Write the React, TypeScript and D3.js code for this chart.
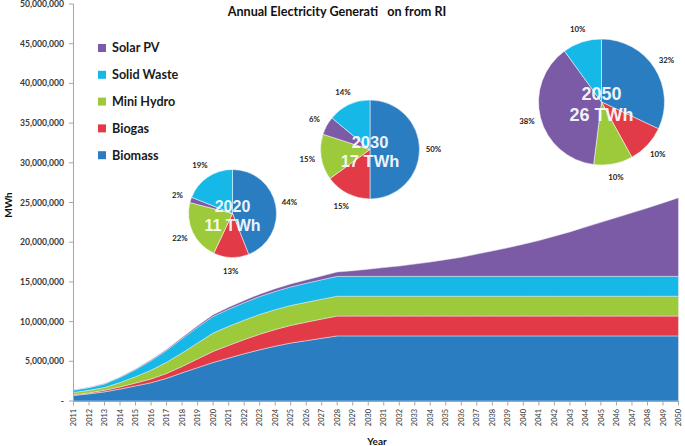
import * as d3 from 'd3';

// Values in million MWh, 2011..2050
const years = d3.range(2011, 2051);

const biomass = [
  0.7, 0.9, 1.15, 1.5, 1.9, 2.3, 2.85, 3.55, 4.2, 4.85,
  5.4, 5.95, 6.45, 6.9, 7.3, 7.6, 7.9, 8.2, 8.2, 8.2,
  8.2, 8.2, 8.2, 8.2, 8.2, 8.2, 8.2, 8.2, 8.2, 8.2,
  8.2, 8.2, 8.2, 8.2, 8.2, 8.2, 8.2, 8.2, 8.2, 8.2,
];
const biogas = [
  0.08, 0.12, 0.2, 0.27, 0.36, 0.48, 0.62, 0.8, 1.1, 1.4,
  1.6, 1.78, 1.95, 2.1, 2.22, 2.33, 2.42, 2.5, 2.5, 2.5,
  2.5, 2.5, 2.5, 2.5, 2.5, 2.5, 2.5, 2.5, 2.5, 2.5,
  2.5, 2.5, 2.5, 2.5, 2.5, 2.5, 2.5, 2.5, 2.5, 2.5,
];
const miniHydro = [
  0.3, 0.32, 0.35, 0.55, 0.8, 1.1, 1.4, 1.7, 2.0, 2.3,
  2.4, 2.45, 2.5, 2.5, 2.5, 2.5, 2.5, 2.5, 2.5, 2.5,
  2.5, 2.5, 2.5, 2.5, 2.5, 2.5, 2.5, 2.5, 2.5, 2.5,
  2.5, 2.5, 2.5, 2.5, 2.5, 2.5, 2.5, 2.5, 2.5, 2.5,
];
const solidWaste = [
  0.3, 0.35, 0.45, 0.65, 0.9, 1.2, 1.5, 1.8, 2.0, 2.1,
  2.15, 2.2, 2.25, 2.3, 2.35, 2.4, 2.45, 2.5, 2.5, 2.5,
  2.5, 2.5, 2.5, 2.5, 2.5, 2.5, 2.5, 2.5, 2.5, 2.5,
  2.5, 2.5, 2.5, 2.5, 2.5, 2.5, 2.5, 2.5, 2.5, 2.5,
];
const solarPV = [
  0.02, 0.03, 0.04, 0.06, 0.08, 0.1, 0.13, 0.16, 0.19, 0.22,
  0.25, 0.28, 0.31, 0.34, 0.38, 0.42, 0.47, 0.55, 0.7, 0.9,
  1.1, 1.3, 1.55, 1.8, 2.1, 2.4, 2.8, 3.2, 3.6, 4.05,
  4.5, 5.05, 5.6, 6.2, 6.8, 7.4, 8.0, 8.6, 9.25, 9.9,
];

const seriesNames = ['Biomass', 'Biogas', 'Mini Hydro', 'Solid Waste', 'Solar PV'];
const seriesValues = [biomass, biogas, miniHydro, solidWaste, solarPV];
const colors: Record<string, string> = {
  'Biomass': '#2b7dc1',
  'Biogas': '#e23a46',
  'Mini Hydro': '#9dca3b',
  'Solid Waste': '#15b8e7',
  'Solar PV': '#7b5aa6',
};
const legendOrder = ['Solar PV', 'Solid Waste', 'Mini Hydro', 'Biogas', 'Biomass'];

// pie slices, clockwise from 12 o'clock
const pieSliceNames = ['Biomass', 'Biogas', 'Mini Hydro', 'Solar PV', 'Solid Waste'];
const pieYears = ['2020', '2030', '2050'];
const pieTotals = ['11 TWh', '17 TWh', '26 TWh'];
const pieShares = [
  [44, 13, 22, 2, 19],
  [50, 15, 15, 6, 14],
  [32, 10, 10, 38, 10],
];
const pieLayout = [
  { cx: 232.5, cy: 213.5, r: 44, fs: 16 },
  { cx: 370, cy: 149.5, r: 49.5, fs: 16.5 },
  { cx: 601.5, cy: 102, r: 63, fs: 18 },
];

const yTicks = [0, 5, 10, 15, 20, 25, 30, 35, 40, 45, 50];

const W = 685;
const H = 446;
const FONT = 'Lato, "Open Sans", sans-serif';

export default function App() {
  const x = d3.scalePoint<number>().domain(years).range([73.5, 678.5]);
  const y = d3.scaleLinear().domain([0, 50]).range([401, 4]);

  const rows = years.map((yr, i) => {
    const r: Record<string, number> = { year: yr };
    seriesNames.forEach((n, k) => { r[n] = seriesValues[k][i]; });
    return r;
  });
  const stacked = d3.stack<Record<string, number>>().keys(seriesNames)(rows);
  const area = d3.area<d3.SeriesPoint<Record<string, number>>>()
    .x(d => x(d.data.year) ?? 0)
    .y0(d => y(d[0]))
    .y1(d => y(d[1]));

  const fmt = d3.format(',');

  return (
    <div style={{ position: 'fixed', left: 0, top: 0, width: W, height: H, background: '#fff' }}>
      <svg width={W} height={H} style={{ display: 'block' }} fontFamily={FONT}>
        {/* areas */}
        {stacked.map(s => (
          <path key={s.key} d={area(s) ?? ''} fill={colors[s.key]}
            stroke="#e8e8f0" strokeOpacity={0.7} strokeWidth={0.7} />
        ))}

        {/* y axis */}
        <line x1={73.5} x2={73.5} y1={4} y2={401} stroke="#a6a6a6" strokeWidth={1} />
        {yTicks.map(t => (
          <g key={t}>
            <line x1={69} x2={73.5} y1={y(t)} y2={y(t)} stroke="#a6a6a6" />
            <text x={64} y={y(t)} dy="0.35em" textAnchor="end" fontSize={8.6}
              fontWeight={700} fill="#3a3a3a">{t === 0 ? '-' : fmt(t * 1e6)}</text>
          </g>
        ))}

        {/* x axis */}
        <line x1={73.5} x2={679} y1={401.5} y2={401.5} stroke="#a6a6a6" strokeWidth={1} />
        {years.map(yr => (
          <g key={yr}>
            <line x1={x(yr)} x2={x(yr)} y1={401.5} y2={405.5} stroke="#a6a6a6" />
            <text transform={`translate(${x(yr)},${409}) rotate(-90)`} dy="0.35em"
              textAnchor="end" fontSize={7.4} fill="#333">{yr}</text>
          </g>
        ))}

        {/* axis titles */}
        <text x={377} y={441} dy="0.35em" textAnchor="middle" fontSize={10}
          fontWeight={700} fill="#111">Year</text>
        <text transform="translate(8,205) rotate(-90)" dy="0.35em" textAnchor="middle"
          fontSize={10} fontWeight={700} fill="#111">MWh</text>

        {/* title */}
        <text x={337} y={12} dy="0.35em" textAnchor="middle" fontSize={12.6}
          fontWeight={700} fill="#111" style={{ whiteSpace: 'pre' }}>
          {'Annual Electricity Generati   on from RI'}
        </text>

        {/* legend */}
        {legendOrder.map((n, i) => (
          <g key={n} transform={`translate(98,${48 + i * 26.8})`}>
            <rect x={0} y={-4} width={8} height={8} fill={colors[n]} />
            <text x={14} y={0} dy="0.35em" fontSize={12.6} fontWeight={700} fill="#1a1a1a">{n}</text>
          </g>
        ))}

        {/* pies */}
        {pieShares.map((shares, p) => {
          const L = pieLayout[p];
          const arcs = d3.pie<number>().sort(null).value(v => v)(shares);
          const arc = d3.arc<d3.PieArcDatum<number>>().innerRadius(0).outerRadius(L.r);
          return (
            <g key={p} transform={`translate(${L.cx},${L.cy})`}>
              {arcs.map((a, k) => (
                <path key={k} d={arc(a) ?? ''} fill={colors[pieSliceNames[k]]}
                  stroke="#fff" strokeWidth={0.5} />
              ))}
              {arcs.map((a, k) => {
                const mid = (a.startAngle + a.endAngle) / 2;
                const rr = L.r + 14;
                return (
                  <text key={'l' + k} x={Math.sin(mid) * rr} y={-Math.cos(mid) * rr}
                    dy="0.35em" textAnchor="middle" fontSize={7.8} fontWeight={700}
                    fill="#222">{shares[k]}%</text>
                );
              })}
              <text x={0} y={-L.fs * 0.45} dy="0.35em" textAnchor="middle"
                fontFamily='"Liberation Sans", Arial, sans-serif' fontWeight={700}
                fontSize={L.fs} fill="#fff" fillOpacity={0.93}>{pieYears[p]}</text>
              <text x={0} y={L.fs * 0.72} dy="0.35em" textAnchor="middle"
                fontFamily='"Liberation Sans", Arial, sans-serif' fontWeight={700}
                fontSize={L.fs} fill="#fff" fillOpacity={0.93}>{pieTotals[p]}</text>
            </g>
          );
        })}
      </svg>
    </div>
  );
}
